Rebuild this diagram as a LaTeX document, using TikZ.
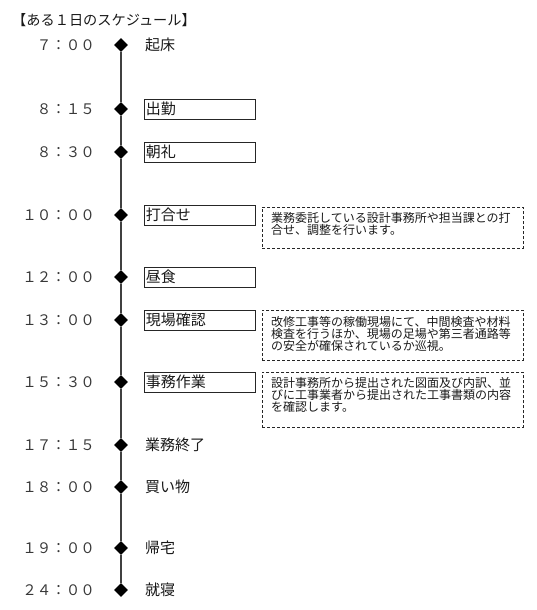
\documentclass[tikz,border=0pt]{standalone}
\usepackage{fontspec}
\setmainfont{Noto Sans CJK JP}
\usetikzlibrary{shapes.geometric}
\begin{document}
\begin{tikzpicture}[x=1pt,y=-1pt,
  timel/.style={anchor=east, font=\fontsize{14.5}{14.5}\selectfont, text=black!78, inner sep=0pt},
  dia/.style={diamond, fill=black, draw=none, minimum width=14pt, minimum height=14pt, inner sep=0pt, aspect=1},
  lbl/.style={anchor=west, font=\fontsize{15}{15}\selectfont, text=black!90, inner sep=0pt},
  sbox/.style={draw=black!85, line width=0.8pt, minimum width=111pt, minimum height=20pt, anchor=west, inner xsep=1pt, inner ysep=0pt, text width=108pt, align=left, font=\fontsize{15}{15}\selectfont, text=black!90},
  dbox/.style={draw=black!85, dash pattern=on 3pt off 2pt, line width=0.7pt, anchor=north west, inner sep=0pt, minimum width=261pt},
  note/.style={anchor=north west, inner sep=0pt, align=left, font=\fontsize{12}{11}\selectfont, text=black!90},
  tline/.style={draw=black!75, line width=1.2pt}
]
\useasboundingbox (0,0) rectangle (536,610);

\node[anchor=west, inner sep=0pt, font=\fontsize{14.2}{14.2}\selectfont, text=black!90] (title) at (12,20) {【ある１日のスケジュール】};

% diamonds
\node[dia] (d1) at (121,45) {};
\node[dia] (d2) at (121,109) {};
\node[dia] (d3) at (121,152) {};
\node[dia] (d4) at (121,215) {};
\node[dia] (d5) at (121,277) {};
\node[dia] (d6) at (121,320) {};
\node[dia] (d7) at (121,382) {};
\node[dia] (d8) at (121,445) {};
\node[dia] (d9) at (121,487) {};
\node[dia] (d10) at (121,548) {};
\node[dia] (d11) at (121,590) {};

\foreach \a/\b in {d1/d2,d2/d3,d3/d4,d4/d5,d5/d6,d6/d7,d7/d8,d8/d9,d9/d10,d10/d11}
  \draw[tline] (\a.south) -- (\b.north);

% times
\node[timel] (t1) at (95,45) {７：００};
\node[timel] (t2) at (95,109) {８：１５};
\node[timel] (t3) at (95,152) {８：３０};
\node[timel] (t4) at (95,215) {１０：００};
\node[timel] (t5) at (95,277) {１２：００};
\node[timel] (t6) at (95,320) {１３：００};
\node[timel] (t7) at (95,382) {１５：３０};
\node[timel] (t8) at (95,445) {１７：１５};
\node[timel] (t9) at (95,487) {１８：００};
\node[timel] (t10) at (95,548) {１９：００};
\node[timel] (t11) at (95,590) {２４：００};

% labels
\node[lbl] (l1) at (145,45) {起床};
\node[sbox] (l2) at (144,109) {出勤};
\node[sbox] (l3) at (144,152) {朝礼};
\node[sbox] (l4) at (144,215) {打合せ};
\node[sbox] (l5) at (144,277) {昼食};
\node[sbox] (l6) at (144,320) {現場確認};
\node[sbox] (l7) at (144,382) {事務作業};
\node[lbl] (l8) at (145,445) {業務終了};
\node[lbl] (l9) at (145,487) {買い物};
\node[lbl] (l10) at (145,548) {帰宅};
\node[lbl] (l11) at (145,590) {就寝};

% notes
\node[dbox, minimum height=41pt] (b4) at (262,207) {};
\node[note] (n4) at (271,212) {業務委託している設計事務所や担当課との打\\合せ、調整を行います。};
\node[dbox, minimum height=50pt] (b6) at (262,310) {};
\node[note] (n6) at (271,316) {改修工事等の稼働現場にて、中間検査や材料\\検査を行うほか、現場の足場や第三者通路等\\の安全が確保されているか巡視。};
\node[dbox, minimum height=55pt] (b7) at (262,372) {};
\node[note] (n7) at (271,377) {設計事務所から提出された図面及び内訳、並\\びに工事業者から提出された工事書類の内容\\を確認します。};
\end{tikzpicture}
\end{document}
